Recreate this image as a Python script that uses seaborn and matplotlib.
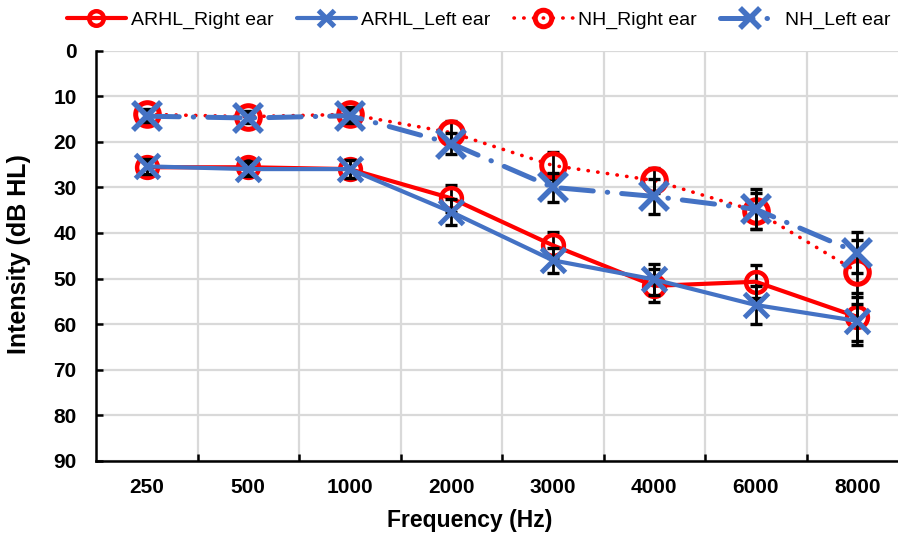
import matplotlib
matplotlib.use("Agg")
import matplotlib.pyplot as plt
import seaborn as sns
import pandas as pd
import numpy as np

frequencies = ["250", "500", "1000", "2000", "3000", "4000", "6000", "8000"]
arhl_right = [25.6, 25.6, 26.0, 32.4, 42.7, 51.6, 50.7, 58.4]
arhl_left = [25.4, 26.0, 26.0, 35.4, 46.0, 50.2, 55.8, 59.3]
nh_right = [14.0, 14.5, 14.0, 18.0, 25.2, 28.5, 35.2, 48.5]
nh_left = [14.4, 14.8, 14.3, 20.4, 30.0, 32.0, 34.8, 44.3]
arhl_right_err = [1.6, 1.6, 2.0, 3.0, 2.8, 3.6, 3.6, 5.2]
arhl_left_err = [1.6, 1.6, 2.0, 2.8, 2.8, 3.4, 4.2, 5.2]
nh_right_err = [1.2, 1.2, 1.6, 2.6, 3.0, 2.8, 4.0, 7.0]
nh_left_err = [1.2, 1.2, 1.5, 2.4, 3.2, 3.8, 4.4, 4.4]

sns.set_theme(style="white")
plt.rcParams['font.family'] = ['Liberation Sans', 'DejaVu Sans']

fig = plt.figure(figsize=(8.98, 5.34), dpi=100)
ax = fig.add_axes([96/898, 73/534, 812/898, 410.5/534])

pos = np.arange(len(frequencies))

RED = "#FF0000"
BLUE = "#4472C4"

series = [
    dict(name="ARHL_Right ear", y=arhl_right, err=arhl_right_err, color=RED,
         marker="o", ms=15, mew=3.2, mfc="none", ls="-", lw=3.0, z=3),
    dict(name="ARHL_Left ear", y=arhl_left, err=arhl_left_err, color=BLUE,
         marker="x", ms=17, mew=3.6, mfc=BLUE, ls="-", lw=3.0, z=4),
    dict(name="NH_Right ear", y=nh_right, err=nh_right_err, color=RED,
         marker="o", ms=17, mew=3.6, mfc="none", ls=(0, (0.1, 2.6)), lw=2.6, z=5),
    dict(name="NH_Left ear", y=nh_left, err=nh_left_err, color=BLUE,
         marker="x", ms=20, mew=4.0, mfc=BLUE, ls=(0, (6.5, 2.8, 0.1, 2.8)), lw=3.6, z=6),
]

for s in series:
    df = pd.DataFrame({"pos": pos, "val": s["y"]})
    ax.errorbar(pos, s["y"], yerr=s["err"], fmt="none", ecolor="black",
                elinewidth=2.0, capsize=4, capthick=2.4, zorder=s["z"] - 0.5)
    sns.lineplot(data=df, x="pos", y="val", ax=ax, color=s["color"],
                 marker=s["marker"], markersize=s["ms"], markeredgewidth=s["mew"],
                 markerfacecolor=s["mfc"], markeredgecolor=s["color"],
                 linestyle=s["ls"], linewidth=s["lw"], label=s["name"],
                 dash_capstyle="round", zorder=s["z"], errorbar=None)

handles, labels = ax.get_legend_handles_labels()
if ax.get_legend() is not None:
    ax.get_legend().remove()

ax.set_xlim(-0.5, len(frequencies) - 0.5)
ax.set_ylim(90, 0)
ax.set_yticks(np.arange(0, 91, 10))
ax.set_xticks(pos)
ax.set_xticklabels(frequencies)
ax.set_xticks(np.arange(0.5, len(frequencies) - 0.5, 1), minor=True)

ax.grid(False)
for v in np.arange(0, 91, 10):
    ax.axhline(v, color="#D9D9D9", lw=1.6, zorder=0)
for v in np.arange(0.5, len(frequencies) - 0.5, 1):
    ax.axvline(v, color="#D9D9D9", lw=1.6, zorder=0)

for sp in ["top", "right"]:
    ax.spines[sp].set_visible(False)
for sp in ["left", "bottom"]:
    ax.spines[sp].set_color("black")
    ax.spines[sp].set_linewidth(1.8)

ax.tick_params(axis="y", which="major", direction="in", length=5, width=1.8,
               color="black", left=True, pad=14, labelsize=15)
ax.tick_params(axis="x", which="major", length=0, pad=12, labelsize=15)
ax.tick_params(axis="x", which="minor", direction="in", length=5, width=1.8,
               color="black", bottom=True)
for lab in ax.get_xticklabels() + ax.get_yticklabels():
    lab.set_fontweight("bold")
    lab.set_color("black")

ax.set_xlabel("Frequency (Hz)", fontsize=16.5, fontweight="bold", color="black")
ax.set_ylabel("Intensity (dB HL)", fontsize=18, fontweight="bold", color="black")
ax.xaxis.set_label_coords(0.46, -0.118)
ax.yaxis.set_label_coords(-0.080, 0.505)

leg = fig.legend(handles, labels, loc="center", bbox_to_anchor=(0.533, 0.962),
                 ncol=4, frameon=False, fontsize=14, handlelength=3.0,
                 handletextpad=0.3, columnspacing=1.2, markerscale=0.7)
for t in leg.get_texts():
    t.set_color("black")

fig.savefig("out.png", dpi=100, facecolor="white")
